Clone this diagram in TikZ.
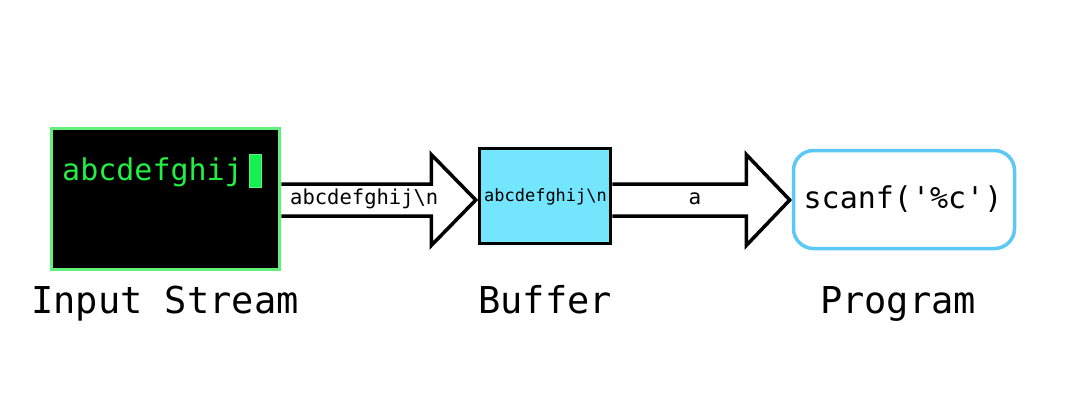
\documentclass[tikz,border=0pt]{standalone}
\usepackage{fontspec}
\setmonofont{DejaVu Sans Mono}
\usetikzlibrary{calc,backgrounds}
\definecolor{termgreen}{RGB}{98,240,124}
\definecolor{textgreen}{RGB}{34,238,68}
\definecolor{curgreen}{RGB}{20,240,80}
\definecolor{bufcyan}{RGB}{115,230,254}
\definecolor{progblue}{RGB}{91,200,245}
\tikzset{
  termbox/.style={draw=termgreen, fill=black, line width=3.5pt, minimum width=228pt, minimum height=141pt, inner sep=0pt},
  bufbox/.style={draw=black, fill=bufcyan, line width=3.5pt, minimum width=131pt, minimum height=95pt, inner sep=0pt},
  progbox/.style={draw=progblue, fill=white, line width=3.5pt, rounded corners=20pt, minimum width=221pt, minimum height=98pt, inner sep=0pt},
  blockarrow/.style={draw=black, fill=white, line width=3.5pt, line join=miter},
  lbl/.style={font=\ttfamily\fontsize{37}{40}\selectfont, inner sep=0pt, anchor=base},
}
\begin{document}
\begin{tikzpicture}[x=1pt,y=-1pt]
\useasboundingbox (0,0) rectangle (1084,400);
% boxes
\node[termbox] (in) at (165.5,199) {};
\node[bufbox] (buf) at (545,196) {};
\node[progbox] (prog) at (904,199.5) {};
% terminal contents
\node[anchor=base west, inner sep=0pt, text=textgreen, font=\ttfamily\fontsize{30}{32}\selectfont] (term) at (62,180) {abcdefghij};
\node[draw=termgreen, fill=curgreen, line width=1pt, minimum width=12pt, minimum height=33pt, inner sep=0pt] (cursor) at (255.5,171) {};
% arrows
\coordinate (a1) at ($(in.east)+(0,1)$);
\coordinate (t1) at ($(buf.west |- a1)+(-2,0)$);
\coordinate (a2) at ($(buf.east |- a1)$);
\coordinate (t2) at ($(prog.west |- a1)+(-2,0)$);
\begin{pgfonlayer}{background}
\fill[white] (0,0) rectangle (1084,400);
\draw[blockarrow] ($(a1)+(0,-16)$) -- ($(t1)+(-44.5,-16)$) -- ($(t1)+(-44.5,-45.5)$) -- (t1) -- ($(t1)+(-44.5,45.5)$) -- ($(t1)+(-44.5,16)$) -- ($(a1)+(0,16)$);
\draw[blockarrow] ($(a2)+(0,-16)$) -- ($(t2)+(-43.5,-16)$) -- ($(t2)+(-43.5,-45.5)$) -- (t2) -- ($(t2)+(-43.5,45.5)$) -- ($(t2)+(-43.5,16)$) -- ($(a2)+(0,16)$);
\end{pgfonlayer}
% arrow labels
\node[anchor=base west, inner sep=0pt, font=\ttfamily\fontsize{20.5}{24}\selectfont] (l1) at (290,204) {abcdefghij\textbackslash n};
\node[anchor=base, inner sep=0pt, font=\ttfamily\fontsize{21}{24}\selectfont] (l2) at (695,204) {a};
% buffer / program contents
\node[anchor=base, inner sep=0pt, font=\ttfamily\fontsize{17}{20}\selectfont] (bt) at (545.5,201.5) {abcdefghij\textbackslash n};
\node[anchor=base, inner sep=0pt, font=\ttfamily\fontsize{30}{32}\selectfont] (pt) at (903,208) {scanf('\%c')};
% captions
\node[lbl] (c1) at (165,313) {Input Stream};
\node[lbl] (c2) at (545,313) {Buffer};
\node[lbl] (c3) at (898,313) {Program};
\end{tikzpicture}
\end{document}
